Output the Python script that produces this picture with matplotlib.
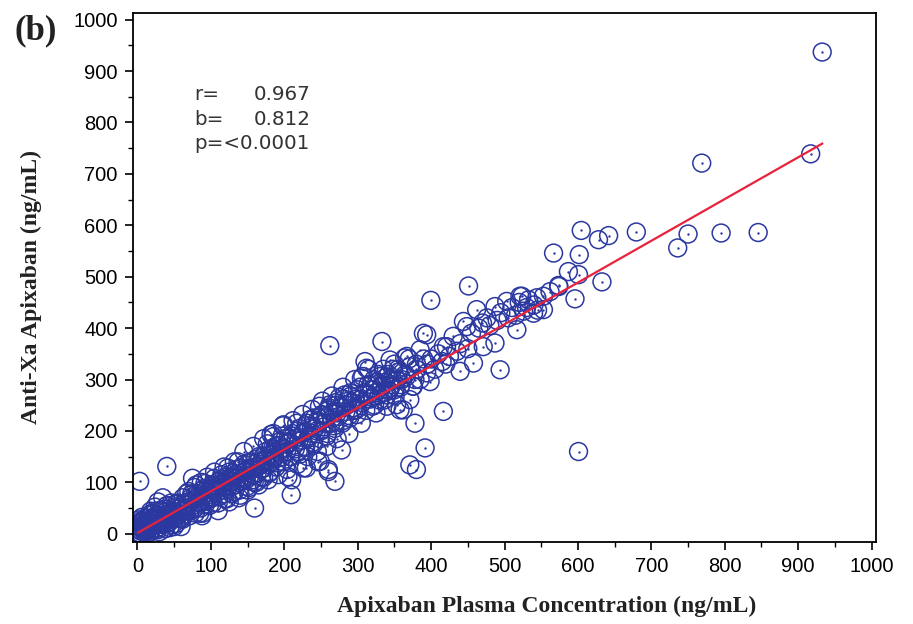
import numpy as np
import matplotlib
matplotlib.use("Agg")
import matplotlib.pyplot as plt
from matplotlib.ticker import MultipleLocator

# ---------------- data ----------------
# dense cluster near origin
low_x = [1, 2, 3, 4, 5, 6, 8, 10, 12, 14, 3, 5, 7, 9, 11, 13, 15, 17, 19, 21,
         6, 10, 14, 18, 22, 26, 30, 34, 38, 42, 16, 20, 24, 28, 32, 36, 40, 44, 48, 52,
         25, 30, 35, 40, 45, 50, 55, 60, 28, 33, 38, 43, 48, 53, 58, 63, 2, 4, 8, 12,
         3, 34.5, 40, 59.5, 89, 75, 18, 24, 46, 56]
low_y = [2, 8, 14, 20, 5, 26, 12, 3, 18, 30, 0, 10, 22, 16, 7, 25, 36, 12, 28, 20,
         32, 14, 6, 38, 24, 10, 30, 18, 42, 26, 2, 15, 34, 8, 46, 22, 38, 12, 28, 50,
         44, 4, 20, 55, 35, 14, 48, 30, 62, 26, 10, 40, 18, 58, 32, 48, 27, 1, 18, 9,
         102, 70, 131, 14, 40, 108, 44, 52, 60, 40]

# band 60-200 ng/mL
mid_x = [62, 65, 68, 70, 72, 75, 78, 80, 82, 85, 88, 90, 92, 95, 98, 100, 102, 105,
         108, 110, 112, 115, 118, 120, 122, 125, 128, 130, 132, 135, 138, 140, 142,
         145, 148, 150, 152, 155, 158, 160, 162, 165, 168, 170, 172, 175, 178, 180,
         182, 185, 188, 190, 192, 195, 198, 200,
         64, 74, 84, 94, 104, 114, 124, 134, 144, 154, 164, 174, 184, 194,
         67, 77, 87, 97, 107, 117, 127, 137, 147, 157, 167, 177, 187, 197,
         123, 159.5, 182, 205, 209.5]
mid_y = [70, 38, 55, 82, 45, 65, 90, 52, 72, 40, 85, 62, 98, 75, 55, 88, 70, 108,
         80, 60, 95, 115, 78, 100, 68, 120, 92, 110, 82, 125, 100, 75, 118,
         135, 105, 125, 90, 140, 115, 130, 100, 150, 125, 140, 110, 160, 135, 120,
         155, 145, 170, 138, 160, 180, 150, 165,
         50, 78, 60, 85, 95, 85, 105, 115, 110, 125, 140, 145, 165, 155,
         78, 48, 100, 70, 92, 100, 110, 140, 122, 105, 135, 175, 150, 190,
         128, 50, 193, 111, 76]

# additional points filling the dense band 0-360 ng/mL
dense_x = [5, 7, 9, 11, 13, 16, 18, 20, 22, 24, 27, 29, 31, 33, 35, 37, 39, 41, 43, 45,
           47, 49, 51, 53, 55, 57, 59, 61, 63, 66, 69, 71, 73, 76, 79, 81, 83, 86, 89,
           91, 93, 96, 99, 101, 103, 106, 109, 111, 113, 116, 119, 121, 123, 126, 129,
           131, 133, 136, 139, 141, 143, 146, 149, 151, 153, 156, 159, 161, 163, 166,
           169, 171, 173, 176, 179, 181, 183, 186, 189, 191, 193, 196, 199, 201, 203,
           206, 209, 211, 213, 216, 219, 221, 224, 227, 229, 231, 234, 237, 239, 241,
           244, 247, 249, 251, 254, 257, 259, 261, 264, 267, 269, 271, 274, 277, 279,
           281, 284, 287, 289, 291, 294, 297, 299, 303, 306, 309, 311, 314, 317, 319,
           323, 326, 329, 333, 336, 339, 343, 347, 351, 355, 359]
dense_y = [12, 25, 4, 30, 15, 22, 5, 40, 18, 30, 12, 35, 22, 45, 28, 10, 32, 48, 22, 40,
           55, 30, 42, 20, 60, 38, 50, 28, 58, 45, 62, 35, 70, 55, 40, 78, 62, 50, 75,
           88, 58, 80, 68, 95, 60, 85, 100, 72, 105, 90, 68, 110, 88, 100, 78,
           118, 95, 108, 85, 128, 102, 120, 92, 138, 112, 128, 100, 145, 118, 132,
           110, 150, 128, 145, 118, 165, 140, 155, 130, 172, 148, 165, 140, 185, 160,
           178, 150, 195, 172, 185, 160, 205, 182, 198, 168, 215, 190, 208, 178, 225,
           200, 218, 185, 232, 208, 228, 195, 245, 215, 238, 205, 250, 228, 248, 215,
           262, 238, 258, 225, 268, 245, 262, 232, 285, 255, 275, 240, 290, 262, 280,
           250, 295, 270, 290, 260, 305, 278, 300, 268, 320, 290]

# points on the outer edges of the band
edge_x = [80, 88, 95, 105, 110, 118, 125, 132, 138, 145, 150, 158, 165, 172, 178, 185,
          192, 198, 204, 212, 218, 225, 232, 238, 245, 252, 258, 265, 272, 280, 288,
          296, 305, 315, 325]
edge_y = [95, 35, 110, 120, 45, 130, 62, 140, 70, 160, 85, 170, 95, 185, 105, 195,
          115, 210, 125, 220, 135, 232, 150, 242, 160, 258, 170, 268, 185, 285, 195,
          300, 215, 320, 235]

# band 200-400 ng/mL
upper_x = [205, 208, 212, 215, 218, 220, 222, 225, 228, 230, 232, 235, 238, 240, 242,
           245, 248, 250, 252, 255, 258, 260, 262, 265, 268, 270, 272, 275, 278, 280,
           282, 285, 288, 290, 292, 295, 298, 300, 302, 305, 307, 310, 312, 315, 318,
           320, 322, 325, 328, 330, 332, 335, 338, 340, 342, 344, 346, 348, 350, 353,
           353, 356, 358, 362, 364, 366, 371, 371, 375, 378, 380,
           226, 230, 246, 249, 260, 269, 278, 260, 210, 185, 199, 217, 262, 333,
           335, 339.6, 344, 357.7, 366.8, 385, 394, 398.6, 375.8, 350, 360, 365, 370,
           380, 390, 345, 330, 320]
upper_y = [175, 150, 190, 165, 200, 180, 155, 195, 170, 210, 185, 222, 195, 175, 205,
           220, 248, 200, 230, 215, 190, 240, 251, 225, 210, 255, 235, 265, 245, 220,
           270, 250, 230, 274, 255, 240, 241, 280, 260, 303, 306, 335, 322, 270, 290,
           248, 300, 275, 310, 306, 285, 320, 295, 270, 310, 338, 290, 320, 280, 299,
           251, 315, 285, 241, 342, 305, 325, 261, 287, 300, 330,
           128, 128, 140, 141, 121, 102, 163, 125, 105, 189, 212, 215, 366, 374,
           274, 248, 300, 241, 345, 300, 313, 296, 287, 330, 300, 310, 340,
           320, 340, 285, 260, 265]

# 400-650 ng/mL
high_x = [385, 389.5, 394, 399.6, 416.7, 421, 430, 439.5, 444, 448.6, 451, 457.7, 462,
          471, 476, 487, 487, 494, 503, 516.8, 521, 523.6, 526, 532.7, 539.5, 544, 553,
          553, 562, 574, 596, 587, 600.8, 573.6, 566.8, 601.8, 604.5, 628, 632.7, 641.8,
          400, 410, 420, 425, 435, 440, 450, 455, 465, 470, 480, 490, 495, 505, 510,
          515, 520, 530, 540, 545, 405, 415, 395]
high_y = [358, 390, 387, 454, 364, 364, 384, 316, 413, 403, 482, 332, 436,
          364, 420, 371, 442, 319, 452, 397, 462, 462, 433, 455, 429, 459, 436,
          462, 471, 481, 457, 510, 504, 483, 546, 543, 590, 572, 490, 580,
          340, 350, 330, 345, 355, 370, 360, 390, 400, 410, 405, 415, 430, 420, 440,
          425, 450, 440, 445, 435, 320, 335, 330]

# outliers
out_x = [416.7, 378, 391.8, 371, 380, 600.8, 679.5, 735.9, 750, 795, 845.5, 768.6,
         917, 932.7]
out_y = [238, 215, 167, 134, 125, 160, 587, 556, 583, 585, 586, 721,
         739, 937]

slope_b = 0.812
intercept_a = 1.5
stats_r = "0.967"
stats_b = "0.812"
stats_p = "p=<0.0001"

x_ticks = list(range(0, 1001, 100))
y_ticks = list(range(0, 1001, 100))

# ---------------- plotting ----------------
conc = np.array(low_x + mid_x + dense_x + edge_x + upper_x + high_x + out_x, dtype=float)
antixa = np.array(low_y + mid_y + dense_y + edge_y + upper_y + high_y + out_y, dtype=float)

fig = plt.figure(figsize=(9.13, 6.24), dpi=100)
ax = fig.add_axes([0.1457, 0.1314, 0.9595 - 0.1457, 0.9792 - 0.1314])

navy = "#2b38a0"
ax.scatter(conc, antixa, s=165, facecolors="none", edgecolors=navy,
           linewidths=1.1, zorder=2)
ax.scatter(conc, antixa, s=3, color=navy, linewidths=0, zorder=3)

lx = np.array([conc.min(), conc.max()])
ax.plot(lx, slope_b * lx + intercept_a, color="#e8223c", lw=1.6, zorder=4)

ax.set_xlim(-6, 1006)
ax.set_ylim(-16, 1013)
ax.set_xticks(x_ticks)
ax.set_yticks(y_ticks)
ax.xaxis.set_minor_locator(MultipleLocator(50))
ax.yaxis.set_minor_locator(MultipleLocator(50))
ax.tick_params(which="major", direction="out", length=6, width=1.2,
               labelsize=14.5, pad=5)
ax.tick_params(which="minor", direction="out", length=3.5, width=1.0)
for lab in ax.get_xticklabels() + ax.get_yticklabels():
    lab.set_family("Liberation Sans")
for sp in ax.spines.values():
    sp.set_linewidth(1.3)

ax.set_xlabel("Apixaban Plasma Concentration (ng/mL)", family="Liberation Serif",
              fontweight="bold", fontsize=17, color="#222222")
ax.set_ylabel("Anti-Xa Apixaban (ng/mL)", family="Liberation Serif",
              fontweight="bold", fontsize=17, color="#222222")
ax.xaxis.label.set_va("center")
ax.yaxis.label.set_va("center")
ax.xaxis.set_label_coords(0.557, -0.122)
ax.yaxis.set_label_coords(-0.137, 0.482)

tkw = dict(transform=ax.transAxes, family="DejaVu Sans", fontsize=14.3,
           color="#333333", va="center")
ax.text(0.083, 0.845, "r=", ha="left", **tkw)
ax.text(0.2396, 0.845, stats_r, ha="right", **tkw)
ax.text(0.083, 0.799, "b=", ha="left", **tkw)
ax.text(0.2396, 0.799, stats_b, ha="right", **tkw)
ax.text(0.083, 0.753, stats_p, ha="left", **tkw)

fig.text(0.016, 0.950, "(b)", family="Liberation Serif", fontweight="bold",
         fontsize=25, color="#222222", va="center", ha="left")

fig.savefig("out.png", dpi=100)
